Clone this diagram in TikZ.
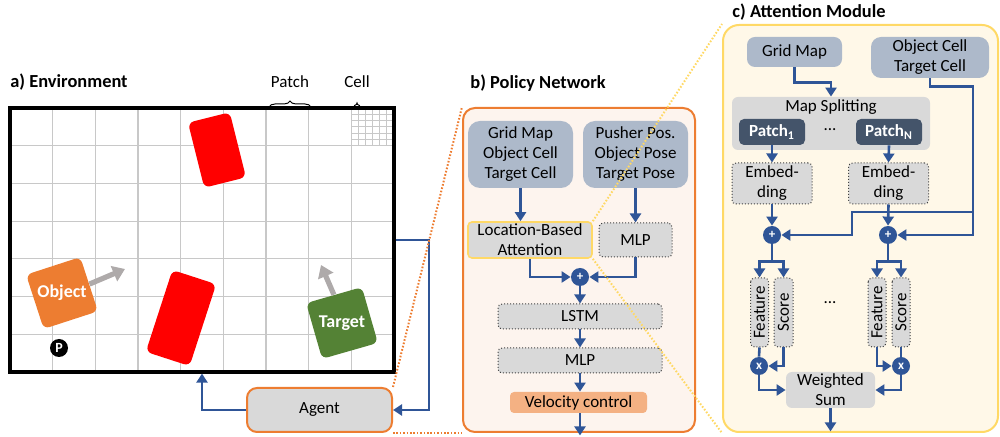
\documentclass[tikz,border=0pt]{standalone}
\usepackage{fontspec}
\setmainfont{Carlito}
\usepackage{graphicx}
\usetikzlibrary{arrows.meta,positioning,calc,decorations.pathreplacing}

\definecolor{lineblue}{HTML}{2F5597}
\definecolor{inblue}{HTML}{ADB9CA}
\definecolor{boxgray}{HTML}{D9D9D9}
\definecolor{polorange}{HTML}{ED7D31}
\definecolor{polfill}{HTML}{FDF4EE}
\definecolor{attyellow}{HTML}{FFD966}
\definecolor{attfill}{HTML}{FFF8E8}
\definecolor{velfill}{HTML}{F4B183}
\definecolor{patchdark}{HTML}{44546A}
\definecolor{tgtgreen}{HTML}{548235}
\definecolor{arrowgray}{HTML}{AEAAAA}
\definecolor{gridgray}{HTML}{C8C8C8}

\tikzstyle{inbox}=[fill=inblue, rounded corners=6pt, align=center, inner sep=0pt]
\tikzstyle{graybox}=[fill=boxgray, rounded corners=2pt, align=center, inner sep=0pt]
\tikzstyle{dotbox}=[graybox, draw=black!75, densely dotted, line width=0.5pt]
\tikzstyle{patchbox}=[fill=patchdark, text=white, rounded corners=2.5pt, inner sep=0pt, font=\bfseries\fontsize{8.5}{10}\selectfont, minimum width=33pt, minimum height=13pt]
\tikzstyle{opnode}=[circle, fill=lineblue, text=white, font=\bfseries\fontsize{6.5}{7}\selectfont, minimum size=9pt, inner sep=0pt]
\tikzstyle{link}=[draw=lineblue, line width=1.3pt, -{Triangle[width=5.5pt,length=4.5pt]}]
\tikzstyle{wire}=[draw=lineblue, line width=1.3pt]
\tikzstyle{headlbl}=[font=\bfseries\fontsize{9.2}{11}\selectfont, anchor=west, inner sep=0pt]
\tikzstyle{gridline}=[draw=gridgray, line width=0.6pt]
\tikzstyle{garrow}=[draw=arrowgray, line width=2.6pt, -{Triangle[width=8pt,length=6pt]}]
\tikzstyle{zoomline}=[line width=1pt, dash pattern=on 0.8pt off 0.9pt]

\begin{document}
\begin{tikzpicture}[x=0.5pt, y=-0.5pt, font=\fontsize{8.5}{10}\selectfont]
\useasboundingbox (0,0) rectangle (1000,437);

% a) environment
\node[headlbl] (envtitle) at (10,82) {a) Environment};
\foreach \i in {1,...,8}
    \draw[gridline] ({10+\i*384/9},108) -- ({10+\i*384/9},372);
\foreach \j in {1,...,6}
    \draw[gridline] (10,{108+\j*264/7}) -- (394,{108+\j*264/7});
\foreach \k in {1,...,5} {
    \draw[gridline, line width=0.4pt] ({394-\k*384/54},108) -- ({394-\k*384/54},{108+264/7});
    \draw[gridline, line width=0.4pt] ({10+8*384/9},{108+\k*264/42}) -- (394,{108+\k*264/42});
}
\node[draw, line width=1.6pt, minimum width=192pt, minimum height=132pt, inner sep=0pt] (env) at (202,240) {};

\draw[decorate, decoration={brace, amplitude=3pt}, line width=0.5pt] (269,107) -- (311,107);
\draw[decorate, decoration={brace, amplitude=2pt}, line width=0.5pt] (354,107) -- (360,107);
\node (patchlbl) at (290,82) {Patch};
\node (celllbl) at (357,82) {Cell};

\node[fill=red, rounded corners=3pt, minimum width=21.5pt, minimum height=33.5pt, rotate=14] (redtop) at (217,150) {};
\node[fill=red, rounded corners=3pt, minimum width=23pt, minimum height=43pt, rotate=-18] (redbot) at (181,318) {};
\node[fill=polorange, rounded corners=3pt, minimum size=28.5pt, inner sep=0pt, rotate=18, text=white, font=\bfseries\fontsize{9}{10}\selectfont] (obj) at (62,293) {\rotatebox{-18}{Object}};
\node[fill=tgtgreen, rounded corners=3pt, minimum size=29pt, inner sep=0pt, rotate=16, text=white, font=\bfseries\fontsize{9}{10}\selectfont] (tgt) at (342,323) {\rotatebox{-16}{Target}};
\node[circle, fill=black, text=white, font=\bfseries\fontsize{7}{8}\selectfont, minimum size=9pt, inner sep=0pt] (pusher) at (59,348) {P};
\draw[garrow] (obj.east) -- (125,269);
\draw[garrow] (tgt.north) -- (321,265);

% agent
\node[fill=boxgray, draw=polorange, line width=1pt, rounded corners=5pt, minimum width=72.5pt, minimum height=22pt] (agent) at (319.5,410) {Agent};
\coordinate (envout) at (429,240);
\draw[link] (agent.west) -| (env.south);
\draw[link] (env.east) -- (envout) |- (agent.east);

% b) policy network
\node[headlbl] (poltitle) at (470,83) {b) Policy Network};
\node[fill=polfill, draw=polorange, line width=1pt, rounded corners=6pt, minimum width=116pt, minimum height=162pt] (pol) at (579,270) {};
\node[inbox, minimum width=52.5pt, minimum height=33.5pt] (pgrid) at (520.5,154.5) {Grid Map\\Object Cell\\Target Cell};
\node[inbox, minimum width=52.5pt, minimum height=33.5pt] (ppose) at (635.5,154.5) {Pusher Pos.\\Object Pose\\Target Pose};
\node[graybox, draw=attyellow, line width=0.8pt, minimum width=62pt, minimum height=18pt] (lba) at (530,240) {Location-Based\\Attention};
\node[dotbox, minimum width=36.5pt, minimum height=17pt] (pmlp) at (635.5,240) {MLP};
\node[opnode] (padd) at (580,277) {+};
\node[dotbox, minimum width=82pt, minimum height=12.5pt] (lstm) at (580,316.5) {LSTM};
\node[dotbox, minimum width=82pt, minimum height=12.5pt] (pmlpb) at (580,360.5) {MLP};
\node[fill=velfill, rounded corners=2pt, inner sep=0pt, minimum width=68.5pt, minimum height=10.5pt] (vel) at (578.5,402.5) {Velocity control};

\draw[link] (pgrid.south) -- (pgrid.south |- lba.north);
\draw[link] (ppose.south) -- (pmlp.north);
\draw[link] (lba.south) |- (padd.west);
\draw[link] (pmlp.south) |- (padd.east);
\draw[link] (padd.south) -- (lstm.north);
\draw[link] (lstm.south) -- (pmlpb.north);
\draw[link] (pmlpb.south) -- (pmlpb.south |- vel.north);
\draw[link] (pmlpb.south |- vel.south) -- ++(0,22);

% c) attention module
\node[headlbl] (atttitle) at (732,12) {c) Attention Module};
\node[fill=attfill, draw=attyellow, line width=1pt, rounded corners=8pt, minimum width=137.5pt, minimum height=203.5pt] (att) at (860.5,228.5) {};
\node[inbox, rounded corners=4pt, minimum width=47.5pt, minimum height=15pt] (agrid) at (794.5,52) {Grid Map};
\node[inbox, rounded corners=5pt, minimum width=59pt, minimum height=20.5pt] (acell) at (930,57.5) {Object Cell\\Target Cell};
\node[graybox, rounded corners=3pt, minimum width=99pt, minimum height=26.5pt, label={[anchor=north, inner sep=1.5pt]north:Map Splitting}] (split) at (831,123.5) {};
\node[patchbox] (patchA) at (772,132) {Patch\textsubscript{1}};
\node[patchbox] (patchB) at (889,132) {Patch\textsubscript{N}};
\node (pdots) at (830,130) {...};
\node[dotbox, minimum width=40pt, minimum height=20.5pt] (embA) at (772,183.5) {Embed-\\ding};
\node[dotbox, minimum width=40pt, minimum height=20.5pt] (embB) at (888.5,183.5) {Embed-\\ding};
\node[opnode] (addA) at (772,235) {+};
\node[opnode] (addB) at (888,235) {+};
\node[dotbox, rotate=90, minimum width=34.5pt, minimum height=9pt] (featA) at (759.5,312.5) {Feature};
\node[dotbox, rotate=90, minimum width=34.5pt, minimum height=9.5pt] (scoreA) at (783.5,312.5) {Score};
\node[dotbox, rotate=90, minimum width=34.5pt, minimum height=9pt] (featB) at (877,312.5) {Feature};
\node[dotbox, rotate=90, minimum width=34.5pt, minimum height=9pt] (scoreB) at (901,312.5) {Score};
\node (fdots) at (830,303) {...};
\node[opnode] (mulA) at (759,366) {x};
\node[opnode] (mulB) at (901,366) {x};
\node[graybox, rounded corners=3pt, minimum width=44.5pt, minimum height=18pt] (wsum) at (830.5,390) {Weighted\\Sum};

\coordinate (jr) at (973,212);
\coordinate (jl) at (852,212);
\draw[link] (agrid.south) -- ++(0,15) -| (split.north);
\draw[link] (patchA.south) -- (embA.north);
\draw[link] (patchB.south) -- (embB.north);
\draw[link] (embA.south) -- (addA.north);
\draw[link] (embB.south) -- (addB.north);
\draw[link] (acell.south) -- ++(0,8) -| (jr) |- (addB.east);
\draw[link] (jr) -- (jl) |- (addA.east);
\draw[link] (addA.south) -- ++(0,17) -| (featA.east);
\draw[link] (addA.south) -- ++(0,17) -| (scoreA.east);
\draw[link] (addB.south) -- ++(0,17) -| (featB.east);
\draw[link] (addB.south) -- ++(0,17) -| (scoreB.east);
\draw[wire] (featA.west) -- (mulA.north);
\draw[link] (scoreA.west) |- (mulA.east);
\draw[link] (featB.west) |- (mulB.west);
\draw[wire] (scoreB.west) -- (mulB.north);
\draw[link] (mulA.south) |- (wsum.west);
\draw[link] (mulB.south) |- (wsum.east);
\draw[link] (wsum.south) -- ++(0,23);

% zoom lines
\draw[zoomline, draw=polorange] (agent.north east) -- (pol.north west);
\draw[zoomline, draw=polorange] (agent.south east) -- (pol.south west);
\draw[zoomline, draw=attyellow] (lba.north east) -- (att.north west);
\draw[zoomline, draw=attyellow] (lba.south east) -- (att.south west);

\end{tikzpicture}
\end{document}
